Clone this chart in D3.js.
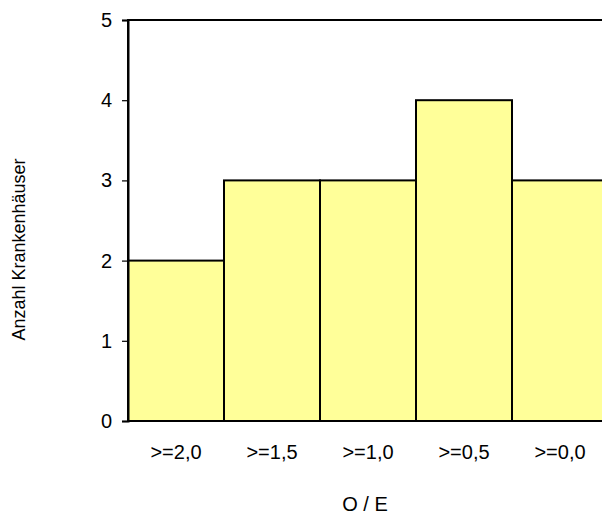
<!DOCTYPE html>
<html>
<head>
<meta charset="utf-8">
<script src="https://cdn.jsdelivr.net/npm/d3@7"></script>
<style>
  html, body { margin: 0; padding: 0; background: #fff; }
  svg { display: block; }
  text { font-family: "Liberation Sans", Arial, sans-serif; fill: #000; }
</style>
</head>
<body>
<svg id="chart" width="602" height="515"></svg>
<script>
// Hospitals per O/E class
const categories = [">=2,0", ">=1,5", ">=1,0", ">=0,5", ">=0,0"];
const counts = [2, 3, 3, 4, 3];
const yTicks = [0, 1, 2, 3, 4, 5];

const svg = d3.select("#chart");
const plot = { left: 128, top: 20, width: 480, height: 401 };

const x = d3.scaleBand()
  .domain(categories)
  .range([plot.left, plot.left + plot.width])
  .padding(0);

const y = d3.scaleLinear()
  .domain([0, 5])
  .range([plot.top + plot.height, plot.top]);

// plot frame
svg.append("rect")
  .attr("x", plot.left)
  .attr("y", plot.top)
  .attr("width", plot.width)
  .attr("height", plot.height)
  .attr("fill", "#fff")
  .attr("stroke", "#000")
  .attr("stroke-width", 2);

// bars
svg.append("g")
  .selectAll("rect")
  .data(categories)
  .join("rect")
  .attr("x", d => x(d))
  .attr("y", (d, i) => y(counts[i]))
  .attr("width", x.bandwidth())
  .attr("height", (d, i) => y(0) - y(counts[i]))
  .attr("fill", "#FFFF99")
  .attr("stroke", "#000")
  .attr("stroke-width", 2);

// y axis
const yAxis = svg.append("g")
  .attr("transform", `translate(${plot.left},0)`)
  .call(d3.axisLeft(y).tickValues(yTicks).tickFormat(d3.format("d")).tickSize(6).tickPadding(10));
yAxis.select(".domain").attr("stroke", "#000").attr("stroke-width", 2);
yAxis.selectAll(".tick line").attr("stroke", "#000").attr("stroke-width", 1.2);
yAxis.selectAll(".tick text").attr("font-size", 20).attr("font-family", "Liberation Sans, Arial, sans-serif");

// x axis labels
const xAxis = svg.append("g")
  .attr("transform", `translate(0,${plot.top + plot.height})`)
  .call(d3.axisBottom(x).tickSize(0).tickPadding(24));
xAxis.select(".domain").remove();
xAxis.selectAll(".tick text").attr("font-size", 20).attr("font-family", "Liberation Sans, Arial, sans-serif");

// axis titles
svg.append("text")
  .attr("transform", `translate(25,${plot.top + plot.height / 2 + 29}) rotate(-90)`)
  .attr("text-anchor", "middle")
  .attr("font-size", 18)
  .text("Anzahl Krankenhäuser");

svg.append("text")
  .attr("x", 365)
  .attr("y", 511)
  .attr("text-anchor", "middle")
  .attr("font-size", 20)
  .text("O / E");
</script>
</body>
</html>
